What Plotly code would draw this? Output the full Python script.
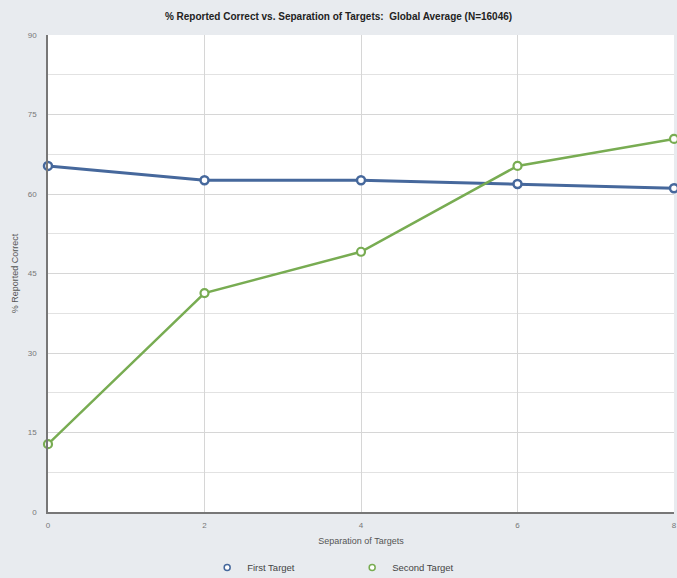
import plotly.graph_objects as go

separation = [0, 2, 4, 6, 8]
first_target = [65.3, 62.6, 62.6, 61.9, 61.1]
second_target = [12.8, 41.3, 49.1, 65.3, 70.4]
y_ticks = [0, 15, 30, 45, 60, 75, 90]
x_ticks = [0, 2, 4, 6, 8]

BLUE = "#46689c"
GREEN = "#78ac52"

fig = go.Figure()
fig.add_trace(go.Scatter(
    x=separation, y=first_target, name="First Target", mode="lines+markers",
    line=dict(color=BLUE, width=3),
    marker=dict(symbol="circle", size=8, color="white", line=dict(color=BLUE, width=2.5)),
    cliponaxis=False, showlegend=False,
))
fig.add_trace(go.Scatter(
    x=separation, y=second_target, name="Second Target", mode="lines+markers",
    line=dict(color=GREEN, width=2.5),
    marker=dict(symbol="circle", size=8, color="white", line=dict(color=GREEN, width=2.2)),
    cliponaxis=False, showlegend=False,
))
# legend entries (marker only)
fig.add_trace(go.Scatter(
    x=[None], y=[None], name="First Target", mode="markers",
    marker=dict(symbol="circle", size=6, color="white", line=dict(color=BLUE, width=1.5)),
))
fig.add_trace(go.Scatter(
    x=[None], y=[None], name="Second Target", mode="markers",
    marker=dict(symbol="circle", size=6, color="white", line=dict(color=GREEN, width=1.5)),
))

fig.update_layout(
    width=677, height=578,
    margin=dict(l=48, r=3, t=35, b=66, autoexpand=False),
    paper_bgcolor="#e8ebef",
    plot_bgcolor="white",
    font=dict(family="Liberation Sans, Arial", color="#555", size=9),
    title=dict(text="<b>% Reported Correct vs. Separation of Targets:  Global Average (N=16046)</b>",
               x=0.5, xanchor="center", y=0.971, yanchor="middle",
               font=dict(size=10, color="#222")),
    showlegend=True,
    legend=dict(orientation="h", xref="container", x=0.306, xanchor="left",
                yref="container", y=0.018, yanchor="middle",
                font=dict(size=9.5, color="#444"), itemwidth=30,
                entrywidth=100, entrywidthmode="pixels", bgcolor="rgba(0,0,0,0)"),
    xaxis=dict(range=[0, 8], tickvals=x_ticks, showgrid=True, gridcolor="#d6d6d6", gridwidth=1,
               showline=True, linecolor="#777", linewidth=1.5, zeroline=False, automargin=False,
               ticks="outside", ticklen=5, tickcolor="rgba(0,0,0,0)",
               title=dict(text="Separation of Targets", font=dict(size=9), standoff=8),
               tickfont=dict(size=8, color="#777")),
    yaxis=dict(range=[0, 90], tickvals=y_ticks, showgrid=True, gridcolor="#d6d6d6", gridwidth=1,
               minor=dict(dtick=7.5, tick0=0, showgrid=True, gridcolor="#e2e2e2", gridwidth=1),
               showline=True, linecolor="#777", linewidth=1.5, zeroline=False, automargin=False,
               ticks="outside", ticklen=8, tickcolor="rgba(0,0,0,0)",
               title=dict(text="% Reported Correct", font=dict(size=9), standoff=8),
               tickfont=dict(size=8, color="#777")),
)

fig.write_html("out.html", config={"displayModeBar": False},
               post_script="document.body.style.margin='0';")
